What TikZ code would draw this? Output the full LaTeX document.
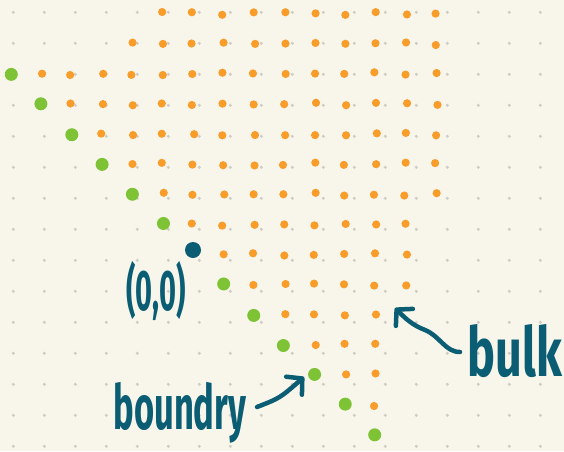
\documentclass[tikz,border=0pt]{standalone}
\usepackage{fontspec,graphicx}
\setmainfont{Fira Sans}
\usetikzlibrary{arrows.meta}
\definecolor{paper}{HTML}{F8F6EB}
\definecolor{griddot}{HTML}{CFCDC6}
\definecolor{bulkorange}{HTML}{F89C2A}
\definecolor{edgegreen}{HTML}{7DC335}
\definecolor{inkteal}{HTML}{0B5D74}
\begin{document}
\begin{tikzpicture}[x=1pt,y=-1pt,
  gridpt/.style={fill=griddot},
  bulkdot/.style={fill=bulkorange},
  edgedot/.style={fill=edgegreen},
  ink/.style={text=inkteal,inner sep=0pt},
  arr/.style={draw=inkteal,line width=4.5pt,line cap=round,line join=round,-{Straight Barb[length=11pt,width=24pt,round]}}]
\fill[paper] (0,0) rectangle (564,451);
\pgfmathsetseed{17}
\foreach \i in {0,...,17}\foreach \j in {0,...,14}\fill[gridpt] (13.3+31*\i,12.3+31*\j) circle (1.7);
\foreach \j/\s/\e in {0/5/14,1/4/14,2/1/14,3/2/14,4/3/14,5/4/14,6/5/14,7/6/13,8/7/13,9/8/13,10/9/12,11/10/12,12/11/12,13/12/12}
  \foreach \i in {\s,...,\e}\fill[bulkdot] (10.6+30.4*\i+1.5*rand,13.5+30.1*\j+1.5*rand) circle (4.1);
\foreach \i/\j in {0/2,1/3,2/4,3/5,4/6,5/7,7/9,8/10,9/11,10/12,11/13,12/14}\fill[edgedot] (10.6+30.4*\i+rand,13.5+30.1*\j+rand) circle (6.5);
\fill[inkteal] (193,250) circle (8);
\node[ink,font=\bfseries\fontsize{44}{44}\selectfont] (origin) at (156,291) {\scalebox{0.66}[1.3]{(0,0)}};
\node[ink,anchor=base,font=\bfseries\fontsize{46}{46}\selectfont] (bdrylabel) at (180,429) {\scalebox{0.75}[1.35]{boundry}};
\node[ink,anchor=base,font=\bfseries\fontsize{52}{52}\selectfont] (bulklabel) at (515,376) {\scalebox{0.9}[1.32]{bulk}};
\coordinate (bdrytail) at (257,407);
\coordinate (bdrytip) at (304,377);
\coordinate (bulktail) at (460,352);
\coordinate (bulktip) at (395,308);
\draw[arr] (bdrytail) .. controls (280,398) .. (bdrytip);
\draw[arr] (bulktail) .. controls (445,352) and (440,336) .. (425,330) .. controls (412,325) and (405,318) .. (bulktip);
\end{tikzpicture}
\end{document}
